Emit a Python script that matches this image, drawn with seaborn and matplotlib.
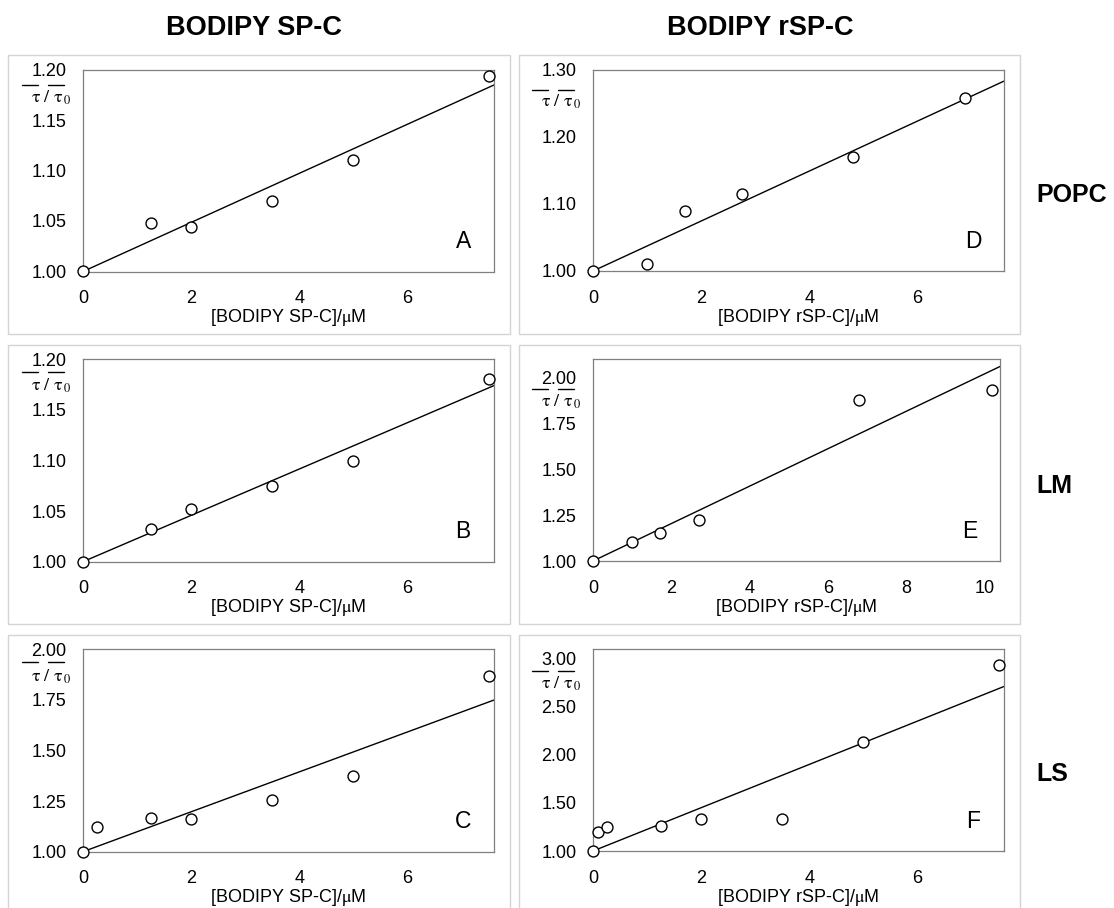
import numpy as np
import pandas as pd
import matplotlib
matplotlib.use("Agg")
import matplotlib.pyplot as plt
from matplotlib.patches import Rectangle
from matplotlib.lines import Line2D
import seaborn as sns

# ---------------- data ----------------
col_titles = ["BODIPY SP-C", "BODIPY rSP-C"]
row_labels = ["POPC", "LM", "LS"]
panel_letters = ["A", "B", "C", "D", "E", "F"]

x_A = [0, 1.25, 2.0, 3.5, 5.0, 7.5]
y_A = [1.000, 1.048, 1.044, 1.070, 1.110, 1.194]
x_B = [0, 1.25, 2.0, 3.5, 5.0, 7.5]
y_B = [1.000, 1.032, 1.052, 1.075, 1.100, 1.181]
x_C = [0, 0.25, 1.25, 2.0, 3.5, 5.0, 7.5]
y_C = [1.000, 1.122, 1.166, 1.160, 1.255, 1.374, 1.868]
x_D = [0, 1.0, 1.7, 2.75, 4.8, 6.87]
y_D = [1.000, 1.010, 1.089, 1.115, 1.169, 1.257]
x_E = [0, 1.0, 1.7, 2.7, 6.8, 10.2]
y_E = [1.000, 1.105, 1.150, 1.225, 1.878, 1.935]
x_F = [0, 0.1, 0.25, 1.25, 2.0, 3.5, 5.0, 7.5]
y_F = [1.000, 1.197, 1.249, 1.260, 1.330, 1.330, 2.130, 2.935]

# fitted slopes of the straight lines (intercept 1)
slopes = {"A": 0.0243, "B": 0.0229, "C": 0.0986, "D": 0.0372, "E": 0.102, "F": 0.2254}

x_labels = ["[BODIPY SP-C]/$\\mathrm{μ}$M", "[BODIPY rSP-C]/$\\mathrm{μ}$M"]
y_label_text = r"$\mathrm{τ}\ /\ \mathrm{τ}_{\,0}$"

yticks_A = [1.00, 1.05, 1.10, 1.15, 1.20]
yticks_B = [1.00, 1.05, 1.10, 1.15, 1.20]
yticks_C = [1.00, 1.25, 1.50, 1.75, 2.00]
yticks_D = [1.00, 1.10, 1.20, 1.30]
yticks_E = [1.00, 1.25, 1.50, 1.75, 2.00]
yticks_F = [1.00, 1.50, 2.00, 2.50, 3.00]
xticks_std = [0, 2, 4, 6]
xticks_E = [0, 2, 4, 6, 8, 10]

# ---------------- style ----------------
sns.set_theme(style="white")
plt.rcParams["font.family"] = ["Liberation Sans", "DejaVu Sans"]
plt.rcParams["mathtext.fontset"] = "stix"
plt.rcParams["text.color"] = "black"
plt.rcParams["axes.labelcolor"] = "black"

W, H = 1114, 908
fig = plt.figure(figsize=(W / 100, H / 100), dpi=100)
fig.patch.set_facecolor("white")


def fig_rect(l, t, r, b):
    return [l / W, 1 - b / H, (r - l) / W, (b - t) / H]


def fx(px):
    return px / W


def fy(py):
    return 1 - py / H


# pos = (left, top, right, bottom) in pixels; ylab = (bar offset, tau baseline offset) below top
panels = {
    "A": dict(x=x_A, y=y_A, pos=(83, 69.5, 494, 271.5), xlim=(0, 7.6), ylim=(1.0, 1.2),
              yt=yticks_A, xt=xticks_std, col=0, ylab=(15.5, 33.5)),
    "B": dict(x=x_B, y=y_B, pos=(83, 359.3, 494, 561.7), xlim=(0, 7.6), ylim=(1.0, 1.2),
              yt=yticks_B, xt=xticks_std, col=0, ylab=(13.0, 31.5)),
    "C": dict(x=x_C, y=y_C, pos=(83, 649.3, 494, 851.7), xlim=(0, 7.6), ylim=(1.0, 2.0),
              yt=yticks_C, xt=xticks_std, col=0, ylab=(13.0, 32.5)),
    "D": dict(x=x_D, y=y_D, pos=(593, 69.5, 1004, 271), xlim=(0, 7.6), ylim=(1.0, 1.3),
              yt=yticks_D, xt=xticks_std, col=1, ylab=(20.0, 37.0)),
    "E": dict(x=x_E, y=y_E, pos=(593, 359.3, 1000, 561), xlim=(0, 10.4), ylim=(1.0, 2.1),
              yt=yticks_E, xt=xticks_E, col=1, ylab=(29.7, 47.5)),
    "F": dict(x=x_F, y=y_F, pos=(593, 649.3, 1004, 851), xlim=(0, 7.6), ylim=(1.0, 3.1),
              yt=yticks_F, xt=xticks_std, col=1, ylab=(21.4, 39.0)),
}

spine_col = "#7f7f7f"

for name, p in panels.items():
    L, T, R, B = p["pos"]
    ax = fig.add_axes(fig_rect(L, T, R, B))
    ax.set_facecolor("white")
    df = pd.DataFrame({"x": p["x"], "y": p["y"]})
    k = slopes[name]
    fit_x = np.array(p["xlim"])
    fit = pd.DataFrame({"x": fit_x, "y": 1.0 + k * fit_x})
    sns.lineplot(data=fit, x="x", y="y", ax=ax, color="black", lw=1.0, zorder=2)
    sns.scatterplot(data=df, x="x", y="y", ax=ax, s=62, marker="o",
                    facecolor="white", edgecolor="black", linewidth=1.0,
                    zorder=3, clip_on=False)
    ax.set_xlim(*p["xlim"])
    ax.set_ylim(*p["ylim"])
    ax.set_xticks(p["xt"])
    ax.set_xticklabels([str(v) for v in p["xt"]])
    ax.set_yticks(p["yt"])
    ax.set_yticklabels([f"{v:.2f}" for v in p["yt"]])
    ax.tick_params(axis="both", direction="in", length=4.5, width=0.8,
                   color=spine_col, labelsize=13, labelcolor="black")
    ax.tick_params(axis="x", pad=13.5)
    ax.tick_params(axis="y", pad=12)
    for s in ax.spines.values():
        s.set_color(spine_col)
        s.set_linewidth(0.9)
        s.set_visible(True)
    ax.set_xlabel(x_labels[p["col"]], fontsize=13, labelpad=0, color="black")
    ax.set_ylabel("")

    # y-axis label: mean lifetime ratio with overbars
    bar_off, base_off = p["ylab"]
    fig.text(fx(L - 52), fy(T + base_off), y_label_text, ha="left", va="baseline",
             fontsize=13, color="black")
    for (a, b) in [(L - 61, L - 45), (L - 35, L - 19)]:
        fig.add_artist(Line2D([fx(a), fx(b)], [fy(T + bar_off)] * 2,
                              transform=fig.transFigure, color="black", lw=1.0))

    ax.text(0.925, 0.148, name, transform=ax.transAxes, ha="center", va="center",
            fontsize=16.5, color="black")

# panel frames
frames = [(8, 55, 510, 334), (519, 55, 1020, 334),
          (8, 345, 510, 624), (519, 345, 1020, 624),
          (8, 635, 510, 940), (519, 635, 1020, 940)]
for (l, t, r, b) in frames:
    fig.add_artist(Rectangle((l / W, 1 - b / H), (r - l) / W, (b - t) / H,
                             transform=fig.transFigure, fill=False,
                             edgecolor="#d4d4d4", linewidth=1.0))

# column titles
fig.text(254 / W, 1 - 28 / H, col_titles[0], ha="center", va="center",
         fontsize=19.5, fontweight="bold")
fig.text(760 / W, 1 - 28 / H, col_titles[1], ha="center", va="center",
         fontsize=19.5, fontweight="bold")

# row labels
for lab, (cx, cy) in zip(row_labels, [(1072, 195), (1054, 486), (1052, 774)]):
    fig.text(cx / W, 1 - cy / H, lab, ha="center", va="center",
             fontsize=18, fontweight="bold")

fig.savefig("out.png", dpi=100, facecolor="white")
